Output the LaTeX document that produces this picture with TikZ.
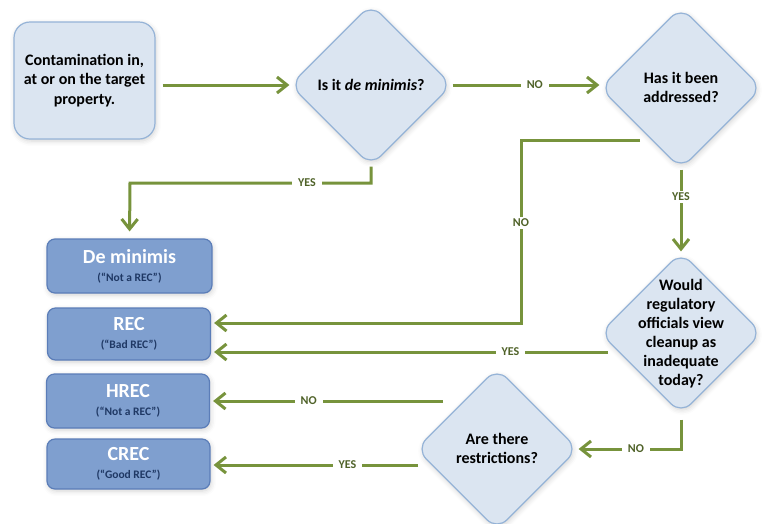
\documentclass[tikz,border=0pt]{standalone}
\usepackage{fontspec}
\setmainfont{Carlito}
\usetikzlibrary{shapes.geometric,arrows.meta,shadows.blur}
\definecolor{lightfill}{HTML}{DBE5F1}
\definecolor{lightline}{HTML}{95B3D7}
\definecolor{darkfill}{HTML}{7F9FCF}
\definecolor{darkline}{HTML}{5B7DB8}
\definecolor{navy}{HTML}{1F3864}
\definecolor{grn}{HTML}{77933C}
\definecolor{lblc}{HTML}{4F6228}
\newcommand\dtext[1]{\makebox[0pt]{\raisebox{-6pt}[0pt][0pt]{\begin{tabular}{@{}c@{}}#1\end{tabular}}}}
\newcommand\rtitle[1]{{\color{white}\fontsize{20}{20}\selectfont #1}}
\newcommand\rsub[1]{{\color{navy}\fontsize{11.5}{12}\selectfont #1}}
\begin{document}
\begin{tikzpicture}[x=1pt,y=-1pt,
  softshadow/.style={blur shadow={shadow xshift=1pt, shadow yshift=-2pt, shadow opacity=18, shadow blur radius=5pt}},
  startbox/.style={draw=lightline, fill=lightfill, line width=1.2pt, rounded corners=16pt,
    minimum width=141pt, minimum height=117pt, align=center, inner sep=0pt,
    font=\fontsize{16}{19.5}\selectfont\bfseries, softshadow},
  dia/.style={diamond, aspect=1, draw=lightline, fill=lightfill, line width=1.2pt,
    rounded corners=14pt, minimum width=162pt, minimum height=162pt, inner sep=0pt,
    font=\fontsize{16}{19}\selectfont\bfseries, softshadow},
  result/.style={draw=darkline, fill=darkfill, line width=1.2pt, rounded corners=8pt,
    minimum width=163pt, minimum height=52pt, align=center, inner sep=0pt,
    font=\fontsize{11.5}{18}\selectfont\bfseries, softshadow},
  arr/.style={draw=grn, line width=3pt, -{Straight Barb[length=10pt,width=16pt]}},
  lbl/.style={fill=white, text=lblc, font=\fontsize{12}{13}\selectfont\bfseries,
    inner xsep=6pt, inner ysep=2pt},
]
\useasboundingbox (0,0) rectangle (762,523);

% nodes
\node[startbox] (S) at (84.5,80.5) {Contamination in,\\at or on the target\\property.};
\node[dia] (D1) at (371,85) {\dtext{Is it \textit{de minimis}?}};
\node[dia] (D2) at (681,88) {\dtext{Has it been\\addressed?}};
\node[dia] (D3) at (681,333) {\dtext{Would\\regulatory\\officials view\\cleanup as\\inadequate\\today?}};
\node[dia] (D4) at (497,449) {\dtext{Are there\\restrictions?}};

\node[result, minimum width=165pt, minimum height=54pt] (R1) at (129.5,266) {\rtitle{De minimis}\\\rsub{(“Not a REC”)}};
\node[result] (R2) at (129,334) {\rtitle{REC}\\\rsub{(“Bad REC”)}};
\node[result, minimum height=54pt] (R3) at (128,401) {\rtitle{HREC}\\\rsub{(“Not a REC”)}};
\node[result, minimum height=50pt] (R4) at (128.5,464) {\rtitle{CREC}\\\rsub{(“Good REC”)}};

% helper coordinates
\coordinate (yes1) at (130,183);
\coordinate (no2a) at (640,140);
\coordinate (no2b) at (521,323);
\coordinate (yes3) at (608,352);
\coordinate (no4) at (443,401);
\coordinate (yes4) at (418,465);

% connectors
\draw[arr, shorten <=7pt] (S.east |- D1.west) -- (D1.west);
\draw[arr] (D1.east) -- node[lbl, pos=0.56] {NO} (D2.west |- D1.east);
\draw[arr, shorten >=7pt] (D1.south) |- node[lbl, pos=0.633] {YES} (yes1) -- (R1.north);
\draw[arr, shorten >=3pt] (no2a) -| node[lbl, pos=0.727] {NO} (no2b) -- (R2.east |- no2b);
\draw[arr] (D2.south) -- node[lbl, pos=0.33] {YES} (D3.north);
\draw[arr, shorten >=3pt] (yes3) -- node[lbl, pos=0.246] {YES} (R2.east |- yes3);
\draw[arr, shorten <=5pt] (D3.south) |- node[lbl, pos=0.72] {NO} (D4.east);
\draw[arr, shorten >=3pt] (no4) -- node[lbl, pos=0.577] {NO} (R3.east |- no4);
\draw[arr, shorten >=3pt] (yes4) -- node[lbl, pos=0.34] {YES} (R4.east |- yes4);
\end{tikzpicture}
\end{document}
